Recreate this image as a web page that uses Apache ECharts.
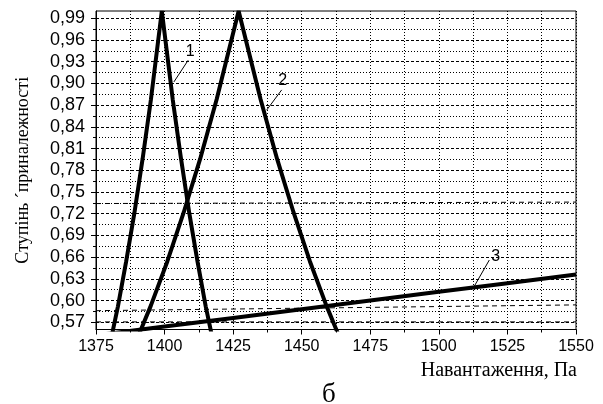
<!DOCTYPE html>
<html>
<head>
<meta charset="utf-8">
<script src="https://cdn.jsdelivr.net/npm/echarts@6/dist/echarts.min.js"></script>
<style>
html,body{margin:0;padding:0;background:#fff;}
#chart{width:603px;height:404px;}
</style>
</head>
<body>
<div id="chart"></div>
<script>
// Curve 1: [load, membership]
const curve1 = [
  [1380, 0.538], [1383, 0.592], [1386, 0.654], [1389, 0.721], [1392, 0.796], [1395, 0.877],
  [1399, 1.0],
  [1403, 0.877], [1406, 0.796], [1409, 0.721], [1412, 0.654], [1415, 0.592], [1418, 0.538]
];
// Curve 2
const curve2 = [
  [1389, 0.538], [1395, 0.593], [1401, 0.654], [1407, 0.722], [1413, 0.796], [1419, 0.878],
  [1427, 1.0],
  [1435, 0.878], [1441, 0.796], [1447, 0.722], [1453, 0.654], [1459, 0.593], [1465, 0.538]
];
// Curve 3
const curve3 = [
  [1375, 0.552], [1400, 0.564], [1425, 0.576], [1450, 0.588], [1475, 0.600],
  [1500, 0.612], [1525, 0.624], [1550, 0.636]
];
// Dashed level lines
const levelA = [[1375, 0.734], [1550, 0.736]];
const levelB = [[1375, 0.586], [1550, 0.594]];
const levelC = [[1375, 0.5705], [1550, 0.5705]];
// Leader lines for curve labels: [end on label side, end at curve]
const leader1 = [[1408.6, 0.932], [1403.4, 0.902]];
const leader2 = [[1442.7, 0.891], [1437.2, 0.863]];
const leader3 = [[1518.4, 0.656], [1512.8, 0.619]];
const curveNames = ['1', '2', '3'];
// Axis ticks
const yMajorTicks = [0.57, 0.60, 0.63, 0.66, 0.69, 0.72, 0.75, 0.78, 0.81, 0.84, 0.87, 0.90, 0.93, 0.96, 0.99];
const yMinorTicks = [0.585, 0.615, 0.645, 0.675, 0.705, 0.735, 0.765, 0.795, 0.825, 0.855, 0.885, 0.915, 0.945, 0.975];
const xTicks = [1375, 1400, 1425, 1450, 1475, 1500, 1525, 1550];

const chart = echarts.init(document.getElementById('chart'), null, {renderer: 'canvas'});

const curveStyle = {color: '#000', width: 4};
function curveSeries(data) {
  return {type: 'line', data: data, showSymbol: false, symbol: 'none', lineStyle: curveStyle,
          itemStyle: {color: '#000'}, clip: true, silent: true, z: 5};
}
function levelSeries(data) {
  return {type: 'line', data: data, showSymbol: false, symbol: 'none',
          lineStyle: {color: '#000', width: 1, type: [5, 4]}, clip: true, silent: true, z: 3};
}
function leaderSeries(data, name, pos, dist, off) {
  return {type: 'line', showSymbol: true, symbol: 'circle', symbolSize: 0, silent: true, z: 6,
    lineStyle: {color: '#000', width: 1}, itemStyle: {color: '#000', opacity: 0},
    label: {show: false},
    data: [
      {value: data[0], label: {show: true, formatter: name, position: pos, distance: dist, offset: off,
        fontFamily: 'Liberation Sans', fontSize: 16, color: '#000', opacity: 1}},
      {value: data[1]}
    ]};
}

chart.setOption({
  animation: false,
  backgroundColor: '#fff',
  grid: {left: 96, top: 11, right: 27, bottom: 74.5, show: true, borderColor: '#000', borderWidth: 1,
         containLabel: false},
  title: [
    {text: 'Навантаження, Па', right: 26, top: 361, padding: 0,
     textStyle: {fontFamily: 'Liberation Serif', fontSize: 20, fontWeight: 'normal', color: '#000'}},
    {text: 'б', left: 322, top: 381, padding: 0,
     textStyle: {fontFamily: 'Liberation Serif', fontSize: 27, fontWeight: 'normal', color: '#000'}}
  ],
  xAxis: {
    type: 'value', min: xTicks[0], max: xTicks[xTicks.length - 1], interval: 25,
    axisLine: {show: true, onZero: false, lineStyle: {color: '#000', width: 1}},
    axisTick: {show: true, inside: false, length: 5, lineStyle: {color: '#000'}},
    minorTick: {show: true, splitNumber: 2, length: 3, lineStyle: {color: '#000'}},
    axisLabel: {fontFamily: 'Liberation Sans', fontSize: 16, color: '#000', margin: 9,
                formatter: function (v) { return String(v); }},
    splitLine: {show: true, lineStyle: {color: '#000', width: 1, type: [1, 2]}},
    minorSplitLine: {show: true, lineStyle: {color: '#000', width: 1, type: [1, 2]}}
  },
  yAxis: [
    {
      type: 'value', min: 0.56, max: 1.0, position: 'left',
      name: 'Ступінь ´приналежності', nameLocation: 'middle', nameGap: 64,
      nameTextStyle: {fontFamily: 'Liberation Serif', fontSize: 18, color: '#000'},
      axisLine: {show: true, onZero: false, lineStyle: {color: '#000', width: 1}},
      axisTick: {show: true, inside: false, length: 5, customValues: yMajorTicks, lineStyle: {color: '#000'}},
      axisLabel: {customValues: yMajorTicks, fontFamily: 'Liberation Sans', fontSize: 18, color: '#000', margin: 11,
                  formatter: function (v) { return v.toFixed(2).replace('.', ','); }},
      splitLine: {show: true, lineStyle: {color: '#000', width: 1, type: [3, 2]}}
    },
    {
      type: 'value', min: 0.56, max: 1.0, position: 'left',
      axisLine: {show: false, onZero: false},
      axisTick: {show: true, inside: false, length: 3, customValues: yMinorTicks, lineStyle: {color: '#000'}},
      axisLabel: {show: false},
      splitLine: {show: true, lineStyle: {color: '#000', width: 1, type: [1, 2]}}
    }
  ],
  series: [
    levelSeries(levelA), levelSeries(levelB), levelSeries(levelC),
    curveSeries(curve1), curveSeries(curve2), curveSeries(curve3),
    leaderSeries(leader1, curveNames[0], 'top', 1, [2, 0]),
    leaderSeries(leader2, curveNames[1], 'top', 1, [1, 0]),
    leaderSeries(leader3, curveNames[2], 'right', 2, [0, -3])
  ]
});
</script>
</body>
</html>
